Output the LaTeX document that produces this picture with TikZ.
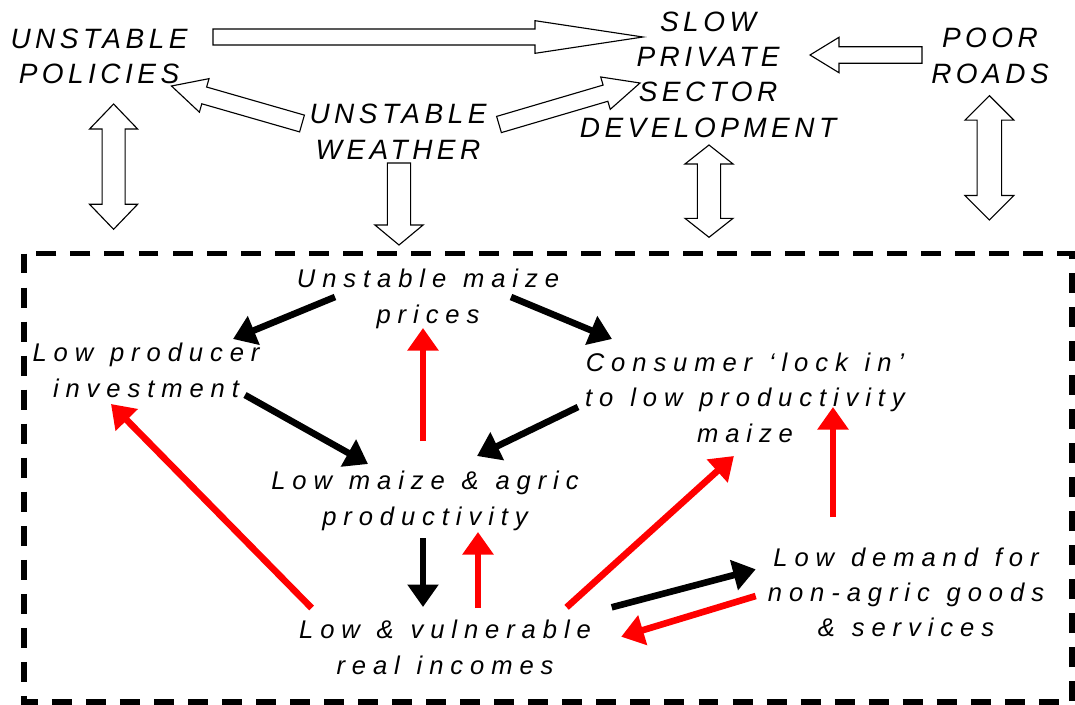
\documentclass[tikz,border=0pt]{standalone}
\usepackage{fontspec}
\setmainfont{Liberation Sans}
\newfontfamily\capsfont{Liberation Sans}[LetterSpace=16]
\newfontfamily\loopfont{Liberation Sans}[LetterSpace=27,WordSpace=1.2]
\usetikzlibrary{arrows.meta,calc}
\tikzset{toplabel/.style={anchor=base,align=center,inner sep=0pt,
		font=\capsfont\itshape\fontsize{19.9}{24.9}\selectfont}}
\tikzset{looplabel/.style={anchor=base,align=center,inner sep=0pt,
		font=\loopfont\itshape\fontsize{18.2}{24.9}\selectfont}}
\tikzset{blk/.style={line width=4.7pt,-{Triangle[length=16pt,width=21.3pt]}},
	redarr/.style={blk,red}}
% hollow block arrows: shaft half width, head half width, head length
\tikzset{blockarrow/.style n args={3}{draw,line width=0.8pt,line join=miter,
		to path={let \p1=(\tikztostart),\p2=(\tikztotarget),\n1={atan2(\y2-\y1,\x2-\x1)} in
			({\x1-#1*sin(\n1)},{\y1+#1*cos(\n1)})
			-- ({\x2-#3*cos(\n1)-#1*sin(\n1)},{\y2-#3*sin(\n1)+#1*cos(\n1)})
			-- ({\x2-#3*cos(\n1)-#2*sin(\n1)},{\y2-#3*sin(\n1)+#2*cos(\n1)})
			-- (\p2)
			-- ({\x2-#3*cos(\n1)+#2*sin(\n1)},{\y2-#3*sin(\n1)-#2*cos(\n1)})
			-- ({\x2-#3*cos(\n1)+#1*sin(\n1)},{\y2-#3*sin(\n1)-#1*cos(\n1)})
			-- ({\x1+#1*sin(\n1)},{\y1-#1*cos(\n1)}) -- cycle}}}
\tikzset{dblockarrow/.style n args={3}{draw,line width=0.8pt,line join=miter,
		to path={let \p1=(\tikztostart),\p2=(\tikztotarget),\n1={atan2(\y2-\y1,\x2-\x1)} in
			(\p1)
			-- ({\x1+#3*cos(\n1)-#2*sin(\n1)},{\y1+#3*sin(\n1)+#2*cos(\n1)})
			-- ({\x1+#3*cos(\n1)-#1*sin(\n1)},{\y1+#3*sin(\n1)+#1*cos(\n1)})
			-- ({\x2-#3*cos(\n1)-#1*sin(\n1)},{\y2-#3*sin(\n1)+#1*cos(\n1)})
			-- ({\x2-#3*cos(\n1)-#2*sin(\n1)},{\y2-#3*sin(\n1)+#2*cos(\n1)})
			-- (\p2)
			-- ({\x2-#3*cos(\n1)+#2*sin(\n1)},{\y2-#3*sin(\n1)-#2*cos(\n1)})
			-- ({\x2-#3*cos(\n1)+#1*sin(\n1)},{\y2-#3*sin(\n1)-#1*cos(\n1)})
			-- ({\x1+#3*cos(\n1)+#1*sin(\n1)},{\y1+#3*sin(\n1)-#1*cos(\n1)})
			-- ({\x1+#3*cos(\n1)+#2*sin(\n1)},{\y1+#3*sin(\n1)-#2*cos(\n1)}) -- cycle}}}
\begin{document}
\begin{tikzpicture}[x=0.025cm,y=-0.025cm,
		loopbox/.style={line width=3.6pt,dash pattern=on 14.2pt off 10pt}]
	\useasboundingbox (0,0) rectangle (1075,704);
	
	\node[toplabel] (pol) at (99,83.3) {UNSTABLE\\POLICIES};
	\node[toplabel] (wea) at (398,159) {UNSTABLE\\WEATHER};
	\node[toplabel] (slow) at (708,137) {SLOW\\PRIVATE\\SECTOR\\DEVELOPMENT};
	\node[toplabel] (poor) at (990,83) {POOR\\ROADS};
	
	\draw[loopbox] (24,253.5) rectangle (1072,702);
	\coordinate (wea-end) at (399,245);
	\coordinate (pol-end) at (113.6,229.3);
	\coordinate (slow-end) at (709,237.3);
	\coordinate (poor-end) at (989.4,220);
	
	\draw[blockarrow={5.7pt}{11.6pt}{76.8pt}] ([shift={(114,-46.3)}]pol.base) to ([shift={(-65,-100)}]slow.base);
	\draw[blockarrow={5.9pt}{12.6pt}{20.6pt}] ([shift={(-68,-28)}]poor.base) to ([shift={(102,-82)}]slow.base);
	\draw[blockarrow={6.2pt}{12.4pt}{24.2pt}] ([shift={(-96,-35.5)}]wea.base) to ([shift={(72.5,2.7)}]pol.base);
	\draw[blockarrow={6pt}{12pt}{25.6pt}] ([shift={(101,-34.5)}]wea.base) to ([shift={(-68,-54)}]slow.base);
	\draw[blockarrow={8.3pt}{17.1pt}{14.2pt}] ([shift={(1,4)}]wea.base) to (wea-end);
	\draw[dblockarrow={8.2pt}{17.1pt}{17.8pt}] ([shift={(14.6,20.7)}]pol.base) to (pol-end);
	\draw[dblockarrow={8.3pt}{17.1pt}{13.5pt}] ([shift={(1,8)}]slow.base) to (slow-end);
	\draw[dblockarrow={8.7pt}{17.4pt}{17.4pt}] ([shift={(-0.6,12.7)}]poor.base) to (poor-end);
	
	\node[looplabel] (prices) at (428,323) {Unstable maize\\prices};
	\node[looplabel] (inv) at (146,397) {Low producer\\investment};
	\node[looplabel] (lock) at (745,442) {Consumer ‘lock in’\\to low productivity\\maize};
	\node[looplabel] (prod) at (425,525) {Low maize \& agric\\productivity};
	\node[looplabel] (inc) at (445,674) {Low \& vulnerable\\real incomes};
	\node[looplabel] (dem) at (906,636.7) {Low demand for\\non-agric goods\\\& services};
	
	\draw[blk] ([shift={(-93,-26)}]prices.base) -- ([shift={(87,-58)}]inv.base);
	\draw[blk] ([shift={(83,-26)}]prices.base) -- ([shift={(-133,-103)}]lock.base);
	\draw[blk] ([shift={(99,-2)}]inv.base) -- ([shift={(-57,-61)}]prod.base);
	\draw[blk] ([shift={(-167,-35)}]lock.base) -- ([shift={(52,-69)}]prod.base);
	\draw[blk] ([shift={(-2,13)}]prod.base) -- ([shift={(-22,-67)}]inc.base);
	\draw[blk] ([shift={(166.7,-66.7)}]inc.base) -- ([shift={(-150.3,-67.4)}]dem.base);
	
	\draw[redarr] ([shift={(-2,-84)}]prod.base) -- ([shift={(-5,5)}]prices.base);
	\draw[redarr] ([shift={(33,-66)}]inc.base) -- ([shift={(53,7)}]prod.base);
	\draw[redarr] ([shift={(-133.4,-66)}]inc.base) -- ([shift={(-35,7)}]inv.base);
	\draw[redarr] ([shift={(121.6,-66.7)}]inc.base) -- ([shift={(-11.1,14)}]lock.base);
	\draw[redarr] ([shift={(-73,-119.7)}]dem.base) -- ([shift={(88,-35)}]lock.base);
	\draw[redarr] ([shift={(-150.3,-40.7)}]dem.base) -- ([shift={(176.2,-37.3)}]inc.base);
\end{tikzpicture}
\end{document}
